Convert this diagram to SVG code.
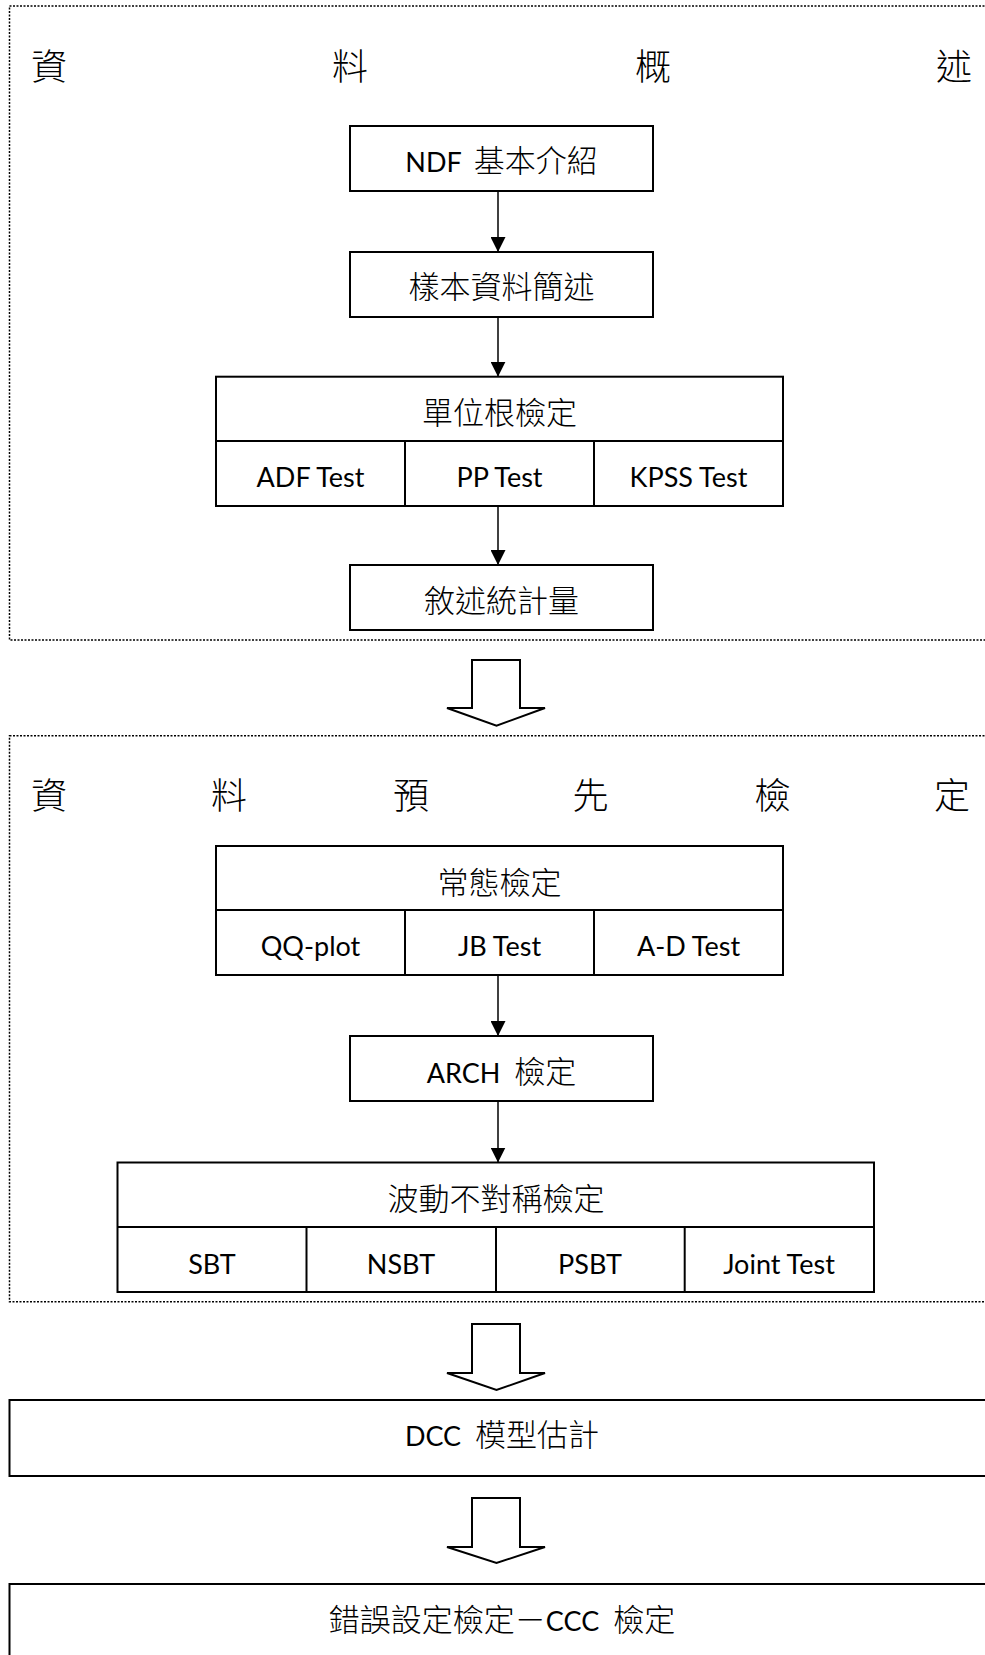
<svg xmlns="http://www.w3.org/2000/svg" width="985" height="1655" viewBox="0 0 985 1655">
<style>
  .bg { fill: #ffffff; }
  .frame { fill: none; stroke: #000; stroke-width: 1.5; stroke-dasharray: 2 1.5; }
  .box { fill: #ffffff; stroke: #000; stroke-width: 2; }
  .div { fill: none; stroke: #000; stroke-width: 2; }
  .conn { fill: none; stroke: #000; stroke-width: 1.5; }
  .big { fill: #ffffff; stroke: #000; stroke-width: 2; stroke-linejoin: miter; }
  .t { font-family: "Noto Sans CJK TC", "Noto Sans CJK SC", sans-serif; font-size: 31px; font-weight: 300; fill: #000; text-anchor: middle; }
  .l { font-family: Lato, "Noto Sans CJK TC", sans-serif; font-size: 27px; font-weight: 400; }
  .title { font-family: "Noto Sans CJK TC", "Noto Sans CJK SC", sans-serif; font-size: 36px; font-weight: 300; fill: #000; text-anchor: middle; }
</style>
<defs>
  <marker id="ah" markerUnits="userSpaceOnUse" markerWidth="15" markerHeight="15" refX="15" refY="7.5" orient="auto">
    <path d="M0,0 L15,7.5 L0,15 Z" fill="#000"/>
  </marker>
</defs>
<rect class="bg" x="0" y="0" width="985" height="1655"/>

<g id="section-overview">
  <rect class="frame" x="9.5" y="6" width="990" height="634"/>
  <text class="title" x="49 350 653 954" y="80">資料概述</text>
</g>
<g id="section-pretest">
  <rect class="frame" x="9.5" y="735.7" width="990" height="566"/>
  <text class="title" x="49 229 411 590.5 772.5 952" y="809">資料預先檢定</text>
</g>

<g id="node-ndf">
  <rect class="box" x="350" y="126" width="303" height="65"/>
  <text class="t" x="501.5" y="172"><tspan class="l">NDF</tspan><tspan dx="12">基本介紹</tspan></text>
</g>
<g id="node-sample">
  <rect class="box" x="350" y="252" width="303" height="65"/>
  <text class="t" x="501.5" y="298">樣本資料簡述</text>
</g>
<g id="node-unitroot">
  <rect class="box" x="216" y="376.7" width="567" height="129.3"/>
  <line class="div" x1="216" y1="441" x2="783" y2="441"/>
  <line class="div" x1="405" y1="441" x2="405" y2="506"/>
  <line class="div" x1="594" y1="441" x2="594" y2="506"/>
  <text class="t" x="499.5" y="424">單位根檢定</text>
  <text class="t l" x="310.5" y="487">ADF Test</text>
  <text class="t l" x="499.5" y="487">PP Test</text>
  <text class="t l" x="688.5" y="487">KPSS Test</text>
</g>
<g id="node-descstats">
  <rect class="box" x="350" y="565" width="303" height="65"/>
  <text class="t" x="501.5" y="612">敘述統計量</text>
</g>
<g id="node-normality">
  <rect class="box" x="216" y="846" width="567" height="129"/>
  <line class="div" x1="216" y1="910" x2="783" y2="910"/>
  <line class="div" x1="405" y1="910" x2="405" y2="975"/>
  <line class="div" x1="594" y1="910" x2="594" y2="975"/>
  <text class="t" x="499.5" y="894">常態檢定</text>
  <text class="t l" x="310.5" y="956">QQ-plot</text>
  <text class="t l" x="499.5" y="956">JB Test</text>
  <text class="t l" x="688.5" y="956">A-D Test</text>
</g>
<g id="node-arch">
  <rect class="box" x="350" y="1036" width="303" height="65"/>
  <text class="t" x="501.5" y="1083"><tspan class="l">ARCH</tspan><tspan dx="14">檢定</tspan></text>
</g>
<g id="node-asym">
  <rect class="box" x="117.5" y="1162.5" width="756.5" height="129.5"/>
  <line class="div" x1="117.5" y1="1227" x2="874" y2="1227"/>
  <line class="div" x1="306.5" y1="1227" x2="306.5" y2="1292"/>
  <line class="div" x1="496" y1="1227" x2="496" y2="1292"/>
  <line class="div" x1="684.7" y1="1227" x2="684.7" y2="1292"/>
  <text class="t" x="496" y="1210">波動不對稱檢定</text>
  <text class="t l" x="212" y="1274">SBT</text>
  <text class="t l" x="401" y="1274">NSBT</text>
  <text class="t l" x="590" y="1274">PSBT</text>
  <text class="t l" x="779" y="1274">Joint Test</text>
</g>
<g id="node-dcc">
  <rect class="box" x="9.5" y="1400" width="990" height="76"/>
  <text class="t" x="502" y="1446"><tspan class="l">DCC</tspan><tspan dx="14">模型估計</tspan></text>
</g>
<g id="node-ccc">
  <rect class="box" x="9.5" y="1584" width="990" height="90"/>
  <text class="t" x="502" y="1631">錯誤設定檢定－<tspan class="l">CCC</tspan><tspan dx="14">檢定</tspan></text>
</g>

<g id="connectors">
  <line class="conn" x1="498" y1="191" x2="498" y2="252" marker-end="url(#ah)"/>
  <line class="conn" x1="498" y1="317" x2="498" y2="376.7" marker-end="url(#ah)"/>
  <line class="conn" x1="498" y1="506" x2="498" y2="565" marker-end="url(#ah)"/>
  <line class="conn" x1="498" y1="975" x2="498" y2="1036" marker-end="url(#ah)"/>
  <line class="conn" x1="498" y1="1101" x2="498" y2="1162.5" marker-end="url(#ah)"/>
  <polygon class="big" points="472,660 520,660 520,708 545,708 496.5,725.7 447,708 472,708"/>
  <polygon class="big" points="472,1324 520,1324 520,1373 545,1373 496.5,1390 447,1373 472,1373"/>
  <polygon class="big" points="472,1498 520,1498 520,1547 545,1547 496.5,1563 447,1547 472,1547"/>
</g>
</svg>
